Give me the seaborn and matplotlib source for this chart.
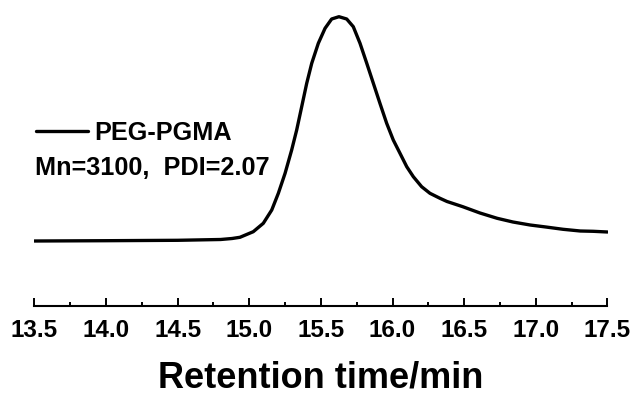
import matplotlib
matplotlib.use("Agg")
import matplotlib.pyplot as plt
import seaborn as sns
import pandas as pd

# Retention time (min) and detector intensity (a.u.)
retention_time = [13.50, 14.00, 14.50, 14.80, 14.88, 14.935, 15.028, 15.098, 15.157,
                  15.203, 15.250, 15.296, 15.331, 15.366, 15.401, 15.436, 15.482,
                  15.529, 15.575, 15.626, 15.680, 15.726, 15.773, 15.820, 15.866,
                  15.912, 15.959, 16.005, 16.052, 16.099, 16.145, 16.203, 16.261,
                  16.331, 16.38, 16.49, 16.61, 16.73, 16.84, 16.96, 17.07, 17.19,
                  17.31, 17.40, 17.50]
intensity = [0.0, 0.3, 0.7, 1.5, 2.5, 3.7, 9.3, 17.7, 31,
             47.7, 67.7, 91, 111, 134.3, 157.7, 177.7, 197.7,
             212.7, 222, 224.3, 222, 214.3, 197.7, 177.7, 157.7,
             137.7, 117.7, 101, 87.7, 74.3, 64.3, 54.3, 47.7,
             42.7, 39.5, 34.3, 28, 22.7, 19, 16, 14, 11.7,
             10, 9.7, 9]

series_label = "PEG-PGMA"
annotation = "Mn=3100,  PDI=2.07"
x_ticks = [13.5, 14.0, 14.5, 15.0, 15.5, 16.0, 16.5, 17.0, 17.5]
x_label = "Retention time/min"

sns.set_theme(style="white")
plt.rcParams['font.family'] = ['Liberation Sans', 'DejaVu Sans']
plt.rcParams['font.weight'] = 'bold'
plt.rcParams['text.color'] = 'black'
plt.rcParams['axes.labelcolor'] = 'black'
plt.rcParams['xtick.color'] = 'black'

df = pd.DataFrame({"t": retention_time, "I": intensity})

fig = plt.figure(figsize=(6.35, 3.94), dpi=100)
ax = fig.add_axes([34.3 / 635, 88 / 394, (607.5 - 34.3) / 635, 306 / 394])

sns.lineplot(data=df, x="t", y="I", ax=ax, color="black", linewidth=2.4,
             label=series_label, legend=False)
for ln in ax.get_lines():
    ln.set_solid_joinstyle('round')
    ln.set_solid_capstyle('round')

ax.set_xlim(13.5, 17.5)
ax.set_ylim(-65, 241)
ax.set_xticks(x_ticks)
ax.set_xticklabels([f"{v:.1f}" for v in x_ticks], fontsize=17.5, fontweight='bold')
ax.set_xticks([v + 0.25 for v in x_ticks[:-1]], minor=True)
ax.tick_params(axis='x', which='major', direction='in', length=6, width=1.4,
               pad=9.5, colors='black', bottom=True)
ax.tick_params(axis='x', which='minor', direction='in', length=3, width=1.4,
               bottom=True)
ax.set_yticks([])
ax.set_ylabel("")
ax.set_xlabel(x_label, fontsize=26, fontweight='bold', labelpad=13)

for s in ['top', 'right', 'left']:
    ax.spines[s].set_visible(False)
ax.spines['bottom'].set_color('black')
ax.spines['bottom'].set_linewidth(1.5)

leg = ax.legend(loc='center left', bbox_to_anchor=(36 / 635, 1 - 133 / 394),
                bbox_transform=fig.transFigure, frameon=False,
                prop={'size': 18.2, 'weight': 'bold'},
                handlelength=2.05, handletextpad=0.25, borderpad=0, borderaxespad=0)
fig.text(35 / 635, 1 - 175 / 394, annotation, fontsize=18.2, fontweight='bold',
         ha='left', va='baseline')

fig.savefig("out.png", dpi=100)
